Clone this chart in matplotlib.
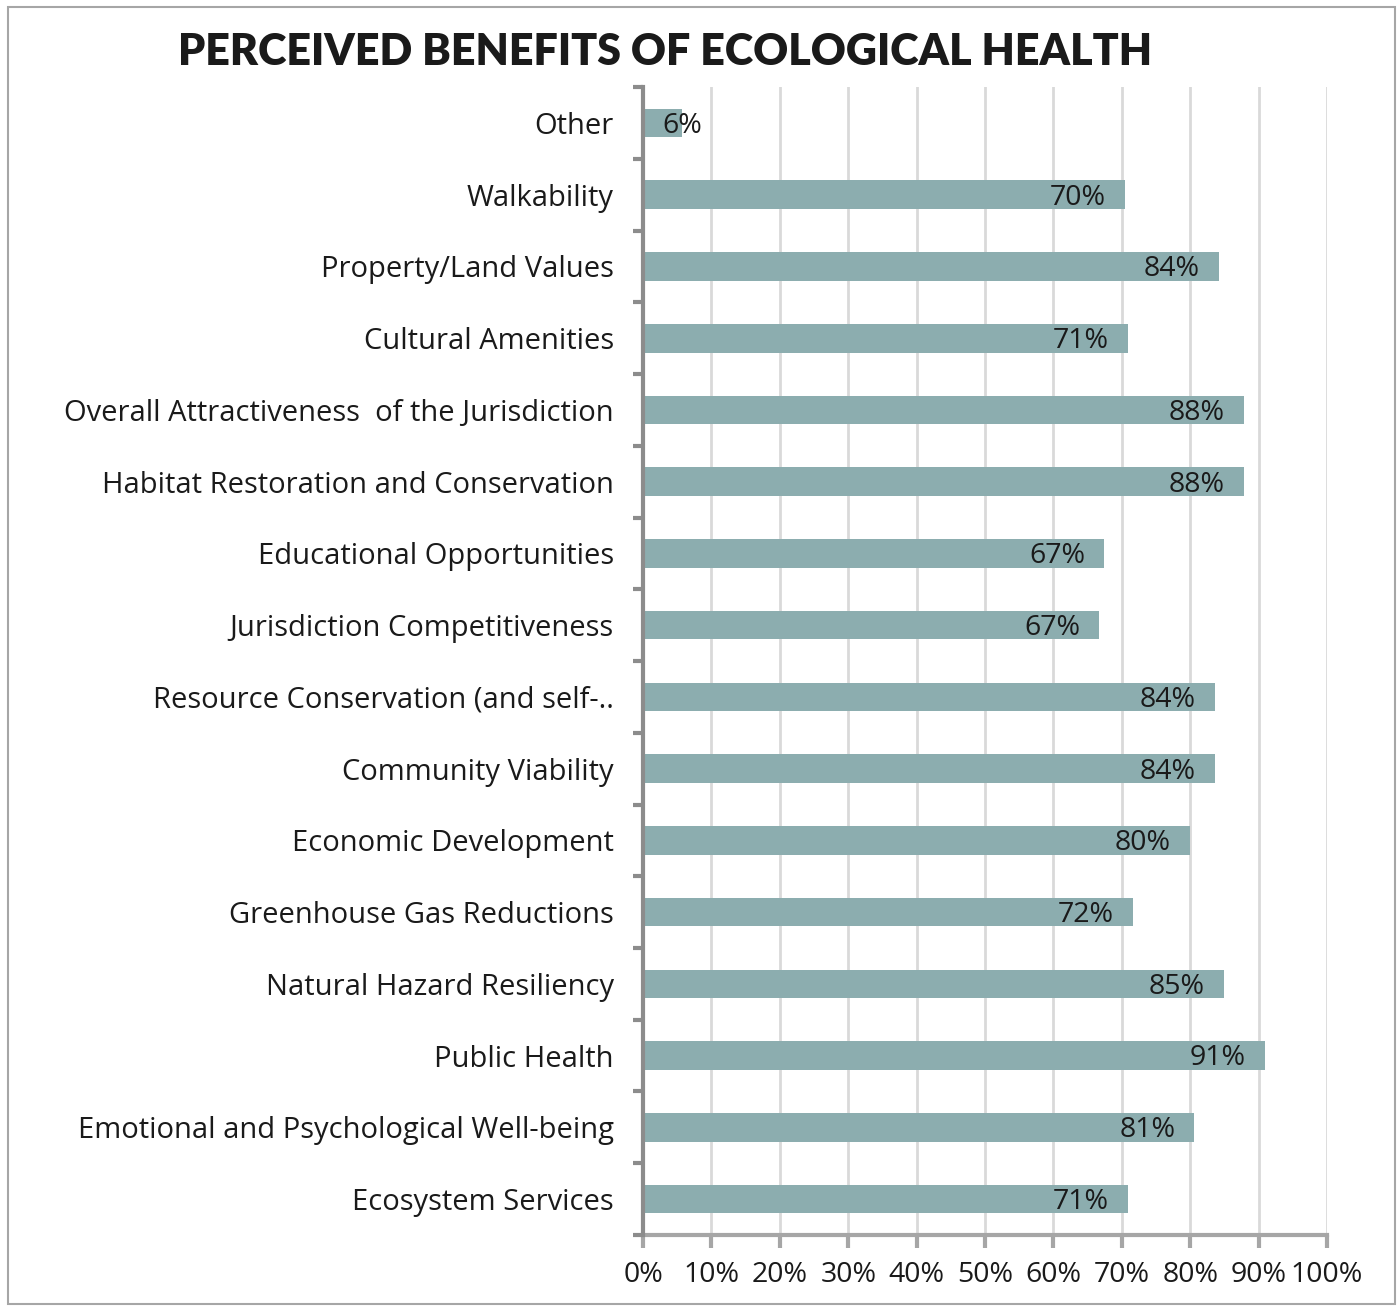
import matplotlib
matplotlib.use("Agg")
import matplotlib.pyplot as plt
from matplotlib.patches import Rectangle
from matplotlib.ticker import MultipleLocator, PercentFormatter
import numpy as np

# survey responses, top of chart first
categories = [
    "Other",
    "Walkability",
    "Property/Land Values",
    "Cultural Amenities",
    "Overall Attractiveness  of the Jurisdiction",
    "Habitat Restoration and Conservation",
    "Educational Opportunities",
    "Jurisdiction Competitiveness",
    "Resource Conservation (and self-..",
    "Community Viability",
    "Economic Development",
    "Greenhouse Gas Reductions",
    "Natural Hazard Resiliency",
    "Public Health",
    "Emotional and Psychological Well-being",
    "Ecosystem Services",
]
shares = [5.7, 70.4, 84.2, 70.9, 87.9, 87.9, 67.4, 66.7,
          83.6, 83.6, 80.0, 71.6, 84.9, 90.9, 80.6, 70.9]
xticks = [0, 10, 20, 30, 40, 50, 60, 70, 80, 90, 100]

BAR = "#8cadaf"
FONT = "Open Sans"
TITLE_FONT = "Lato"

fig = plt.figure(figsize=(13.98, 13.07), dpi=100)
ax = fig.add_axes([0.46, 0.0551, 0.9492 - 0.46, 0.9334 - 0.0551])

y = np.arange(len(categories))
ax.barh(y, shares, height=0.4, color=BAR, zorder=3)
ax.set_ylim(len(categories) - 0.5, -0.5)
ax.set_xlim(0, 100)

# value labels sit inside the bar end
for yi, v in zip(y, shares):
    ax.text(max(v - 2.8, 8.6), yi + 0.04, f"{v:.0f}%", ha="right", va="center",
            fontsize=20.5, family=FONT, color="#1a1a1a", zorder=4)

ax.set_xticks(xticks)
ax.xaxis.set_major_formatter(PercentFormatter(decimals=0))
ax.grid(axis="x", color="#d9d9d9", linewidth=2, zorder=0)
ax.tick_params(axis="x", length=9, width=3, color="#a6a6a6", pad=10,
               labelsize=20.5)

ax.set_yticks(y)
ax.set_yticklabels(categories)
ax.tick_params(axis="y", which="major", length=0, pad=21, labelsize=21)
ax.yaxis.set_minor_locator(MultipleLocator(1, offset=0.5))
ax.tick_params(axis="y", which="minor", length=7, width=3, color="#8c8c8c")
for lab in ax.get_xticklabels() + ax.get_yticklabels():
    lab.set_family(FONT)
    lab.set_color("#1a1a1a")

for side in ("top", "right"):
    ax.spines[side].set_visible(False)
ax.spines["left"].set_color("#8c8c8c")
ax.spines["left"].set_linewidth(3)
ax.spines["left"].set_zorder(5)
ax.spines["bottom"].set_color("#a6a6a6")
ax.spines["bottom"].set_linewidth(3)

fig.text(0.476, 0.960, "PERCEIVED BENEFITS OF ECOLOGICAL HEALTH",
         ha="center", va="center", fontsize=31, fontweight="heavy",
         family=TITLE_FONT, color="#1a1a1a")

# thin frame around the whole chart area
fig.add_artist(Rectangle((0.006, 0.002), 0.992, 0.993, transform=fig.transFigure,
                         fill=False, edgecolor="#a6a6a6", linewidth=1.5))

fig.savefig("out.png", dpi=100)
